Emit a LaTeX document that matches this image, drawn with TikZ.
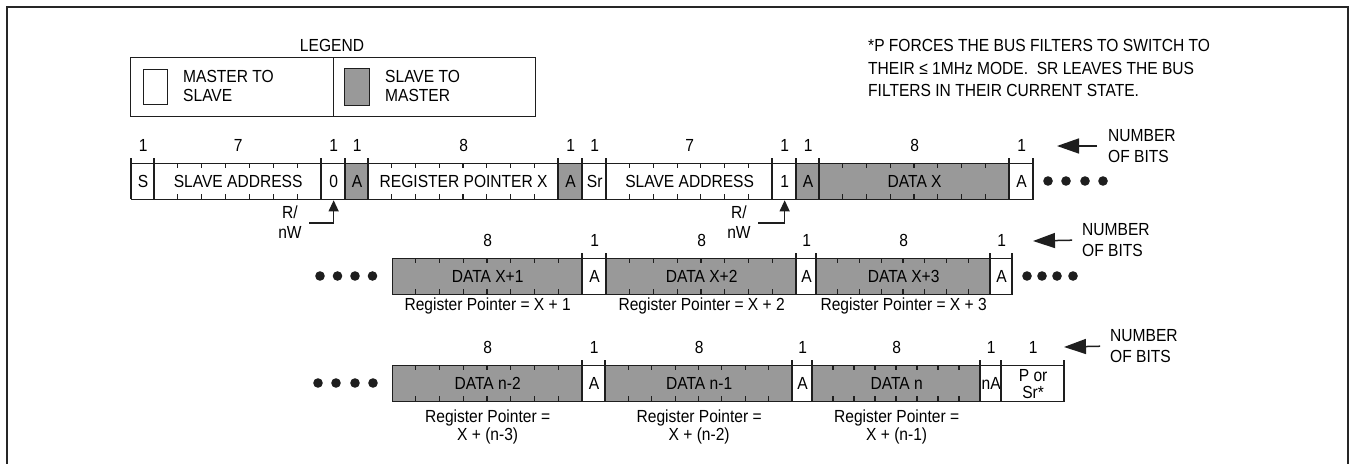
\documentclass[tikz,border=0pt]{standalone}
\usepackage{fontspec}
\setmainfont{Liberation Sans}[FakeStretch=0.89]
\usetikzlibrary{arrows.meta,calc}
\definecolor{gr}{RGB}{153,153,153}
\definecolor{ln}{RGB}{30,30,30}
\tikzset{
  fldbox/.style={draw=ln,line width=1.3pt,inner sep=0pt,minimum height=36pt,align=center,
    font=\fontsize{17.5}{20}\selectfont},
  tickmark/.style={draw=ln,line width=1.1pt},
  sepline/.style={draw=ln,line width=2.2pt},
  bitlbl/.style={font=\fontsize{17.5}{20}\selectfont},
  smallarrow/.style={draw=ln,line width=1.2pt,-{Triangle[length=11pt,width=10pt]}},
  bigarrow/.style={draw=ln,line width=1.5pt,-{Triangle[length=22pt,width=15pt]}},
  dotmark/.style={fill=ln},
  txt/.style={font=\fontsize{17.5}{20}\selectfont,inner sep=0pt},
}
% #1 name, #2 x1, #3 x2, #4 ytop, #5 fill, #6 bits, #7 text
\newcommand\fld[7]{%
  \pgfmathsetmacro\fldw{#3-#2}%
  \node[fldbox,fill=#5,minimum width=\fldw pt,anchor=north west] (#1) at (#2,#4) {#7};
  \pgfmathtruncatemacro\fldn{#6-1}%
  \ifnum\fldn>0
    \foreach \k in {1,...,\fldn}{%
      \draw[tickmark] (#2+\k*\fldw/#6,#4) -- ++(0,5);
      \draw[tickmark] (#2+\k*\fldw/#6,#4+36) -- ++(0,-5);
    }%
  \fi
  \draw[sepline] (#3,#4+36) -- (#3,#4-5);
  \node[bitlbl] (#1-n) at ($(#1.north)+(0,-18)$) {#6};
}
\begin{document}
\begin{tikzpicture}[x=1pt,y=-1pt]
\useasboundingbox (0,0) rectangle (1351,463);
% frame
\draw[line width=2.4pt,draw=black!85] (7,475) -- (7,7) -- (1348,7) -- (1348,475);

% legend
\node[txt] (legt) at (332,45) {LEGEND};
\node[draw=ln,line width=1.3pt,minimum width=203pt,minimum height=59pt,anchor=north west,inner sep=0pt] (legA) at (130,57) {};
\node[draw=ln,line width=1.3pt,minimum width=202pt,minimum height=59pt,anchor=north west,inner sep=0pt] (legB) at (333,57) {};
\node[draw=ln,line width=1.3pt,fill=white,minimum width=24pt,minimum height=35pt,anchor=north west,inner sep=0pt] (sqA) at (143,69) {};
\node[draw=ln,line width=1.3pt,fill=gr,minimum width=25pt,minimum height=37pt,anchor=north west,inner sep=0pt] (sqB) at (344,68) {};
\node[txt,anchor=west,align=left,font=\fontsize{17.5}{19}\selectfont] (legAt) at (183,86) {MASTER TO\\SLAVE};
\node[txt,anchor=west,align=left,font=\fontsize{17.5}{19}\selectfont] (legBt) at (385,86) {SLAVE TO\\MASTER};

% note
\node[txt,anchor=west,align=left,font=\fontsize{17.5}{22.5}\selectfont] (note) at (868,68)
  {*P FORCES THE BUS FILTERS TO SWITCH TO\\THEIR ≤ 1MHz MODE.\ \ SR LEAVES THE BUS\\FILTERS IN THEIR CURRENT STATE.};

% row 1
\fld{s}{131}{154}{163}{white}{1}{S}
\fld{sa1}{154}{321}{163}{white}{7}{SLAVE ADDRESS}
\fld{rw0}{321}{345}{163}{white}{1}{0}
\fld{a11}{345}{368}{163}{gr}{1}{A}
\fld{rp}{368}{558}{163}{white}{8}{REGISTER POINTER X}
\fld{a12}{558}{582}{163}{gr}{1}{A}
\fld{sr}{582}{606}{163}{white}{1}{Sr}
\fld{sa2}{606}{772}{163}{white}{7}{SLAVE ADDRESS}
\fld{rw1}{772}{796}{163}{white}{1}{1}
\fld{a13}{796}{819}{163}{gr}{1}{A}
\fld{dx}{819}{1009}{163}{gr}{8}{DATA X}
\fld{a14}{1009}{1033}{163}{white}{1}{A}
\draw[sepline] (131,199) -- (131,158);
\foreach \i/\x in {1/1048,2/1066,3/1085,4/1103}{\fill[dotmark] (\x,181) circle (4.8pt);}

% R/nW arrows
\node[txt,align=center,font=\fontsize{17.5}{20}\selectfont] (rnw1) at (290,222) {R/\\nW};
\coordinate (rnw1s) at (309,223);
\draw[smallarrow] (rnw1s) -| (rw0.south);
\node[txt,align=center,font=\fontsize{17.5}{20}\selectfont] (rnw2) at (739,222) {R/\\nW};
\coordinate (rnw2s) at (758,223);
\draw[smallarrow] (rnw2s) -| (rw1.south);

% number of bits 1
\node[txt,anchor=west,align=left,font=\fontsize{17.5}{21}\selectfont] (nb1) at (1108,146) {NUMBER\\OF BITS};
\coordinate (nb1e) at (1057,146);
\draw[bigarrow,shorten <=11pt] (nb1.west) -- (nb1e);

% row 2
\foreach \i/\x in {1/320,2/337.5,3/355,4/372.5}{\fill[dotmark] (\x,276) circle (4.8pt);}
\fld{d21}{392}{582}{258}{gr}{8}{DATA X+1}
\fld{a21}{582}{606}{258}{white}{1}{A}
\fld{d22}{606}{796}{258}{gr}{8}{DATA X+2}
\fld{a22}{796}{816}{258}{white}{1}{A}
\fld{d23}{816}{990}{258}{gr}{8}{DATA X+3}
\fld{a23}{990}{1012}{258}{white}{1}{A}
\foreach \i/\x in {1/1027,2/1042,3/1057,4/1073}{\fill[dotmark] (\x,276) circle (4.8pt);}
\node[txt] (rp21) at ($(d21.south)+(0,11)$) {Register Pointer = X + 1};
\node[txt] (rp22) at ($(d22.south)+(0,11)$) {Register Pointer = X + 2};
\node[txt] (rp23) at ($(d23.south)+(0,11)$) {Register Pointer = X + 3};
\node[txt,anchor=west,align=left,font=\fontsize{17.5}{21}\selectfont] (nb2) at (1082,240) {NUMBER\\OF BITS};
\coordinate (nb2e) at (1033,241);
\draw[bigarrow,shorten <=10pt] (nb2.west) -- (nb2e);

% row 3
\foreach \i/\x in {1/318,2/336,3/355,4/373}{\fill[dotmark] (\x,383) circle (4.8pt);}
\fld{d31}{392}{582}{365}{gr}{8}{DATA n-2}
\fld{a31}{582}{605}{365}{white}{1}{A}
\fld{d32}{605}{792}{365}{gr}{8}{DATA n-1}
\fld{a32}{792}{812}{365}{white}{1}{A}
\fld{d33}{812}{980}{365}{gr}{8}{DATA n}
\fld{na}{980}{1001}{365}{white}{1}{nA}
\fld{psr}{1001}{1064}{365}{white}{1}{P or\\[-3pt]Sr*}
\node[txt,align=center,font=\fontsize{17.5}{18}\selectfont] (rp31) at ($(d31.south)+(0,25)$) {Register Pointer =\\X + (n-3)};
\node[txt,align=center,font=\fontsize{17.5}{18}\selectfont] (rp32) at ($(d32.south)+(0,25)$) {Register Pointer =\\X + (n-2)};
\node[txt,align=center,font=\fontsize{17.5}{18}\selectfont] (rp33) at ($(d33.south)+(0,25)$) {Register Pointer =\\X + (n-1)};
\node[txt,anchor=west,align=left,font=\fontsize{17.5}{21}\selectfont] (nb3) at (1110,346) {NUMBER\\OF BITS};
\coordinate (nb3e) at (1064,347);
\draw[bigarrow,shorten <=10pt] (nb3.west) -- (nb3e);
\end{tikzpicture}
\end{document}
